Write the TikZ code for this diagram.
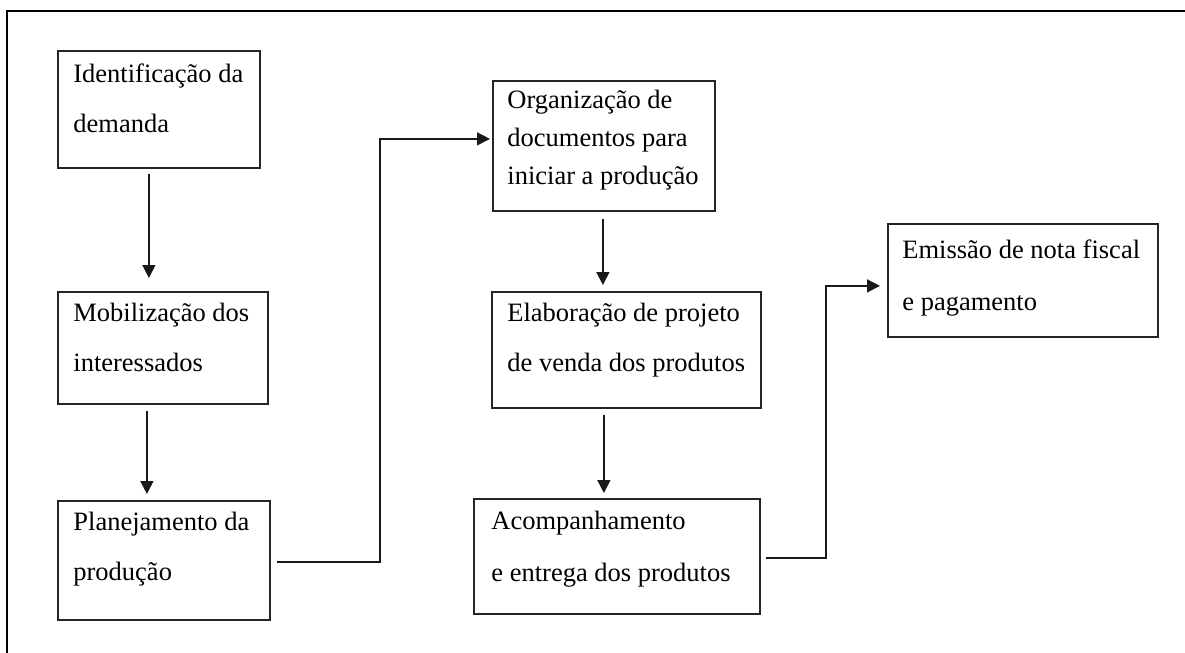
\documentclass[tikz,border=0pt]{standalone}
\usepackage{fontspec}
\setmainfont{Liberation Serif}
\usetikzlibrary{arrows.meta,positioning}

\tikzset{
    stepbox/.style={draw=black!85, line width=0.9pt, inner sep=0pt, anchor=north west},
    steptext/.style={anchor=north west, inner sep=0pt, align=left,
        font=\fontsize{13.25}{25}\selectfont},
    flow/.style={draw=black!90, line width=0.7pt, -{Triangle[length=6.5pt,width=6.5pt]}},
}

\begin{document}
\begin{tikzpicture}[x=0.5pt,y=-0.5pt]
    \useasboundingbox (0,0) rectangle (1185,653);
    % outer frame (cut by the page on the right and bottom)
    \draw[line width=1pt] (7,11) rectangle (1200,670);

    % left column
    \node[stepbox, minimum width=101pt, minimum height=58.5pt] (ident) at (57,50) {};
    \node[steptext] (identtxt) at ([xshift=8pt,yshift=-6.5pt]ident.north west) {Identificação da\\demanda};

    \node[stepbox, minimum width=105pt, minimum height=56pt] (mobil) at (57,291) {};
    \node[steptext] (mobiltxt) at ([xshift=8pt,yshift=-6pt]mobil.north west) {Mobilização dos\\interessados};

    \node[stepbox, minimum width=106pt, minimum height=59.5pt] (plan) at (57,500) {};
    \node[steptext] (plantxt) at ([xshift=8pt,yshift=-6pt]plan.north west) {Planejamento da\\produção};

    % middle column
    \node[stepbox, minimum width=111pt, minimum height=65pt] (org) at (492,80) {};
    \node[steptext, font=\fontsize{13.25}{19}\selectfont] (orgtxt) at ([xshift=7.5pt,yshift=-5pt]org.north west) {Organização de\\documentos para\\iniciar a produção};

    \node[stepbox, minimum width=134.5pt, minimum height=58pt] (elab) at (491,291) {};
    \node[steptext] (elabtxt) at ([xshift=8pt,yshift=-6pt]elab.north west) {Elaboração de projeto\\de venda dos produtos};

    \node[stepbox, minimum width=143pt, minimum height=57.5pt] (acomp) at (473,498) {};
    \node[steptext, font=\fontsize{13.25}{26}\selectfont] (acomptxt) at ([xshift=9pt,yshift=-6.5pt]acomp.north west) {Acompanhamento\\e entrega dos produtos};

    % right column
    \node[stepbox, minimum width=135pt, minimum height=56.5pt] (emis) at (887,223) {};
    \node[steptext, font=\fontsize{13.25}{26}\selectfont] (emistxt) at ([xshift=7.5pt,yshift=-8pt]emis.north west) {Emissão de nota fiscal\\e pagamento};

    % connectors
    \draw[flow, shorten <=2.5pt, shorten >=6.5pt] ([xshift=-5pt]ident.south) -- ([xshift=-5pt]ident.south |- mobil.north);
    \draw[flow, shorten <=3pt, shorten >=3pt] ([xshift=-8pt]mobil.south) -- ([xshift=-8pt]mobil.south |- plan.north);
    \draw[flow, shorten >=1pt] ([xshift=3pt,yshift=-0.75pt]plan.east) -- ++(103,0) |- ([yshift=3.5pt]org.west);
    \draw[flow, shorten <=3.5pt, shorten >=3pt] ([xshift=-0.5pt]org.south) -- ([xshift=-0.5pt]org.south |- elab.north);
    \draw[flow, shorten <=3pt, shorten >=2.5pt] ([xshift=-11.25pt]elab.south) -- ([xshift=-11.25pt]elab.south |- acomp.north);
    \draw[flow, shorten >=3.5pt] ([xshift=2.5pt,yshift=-0.75pt]acomp.east) -- ++(60,0) |- ([yshift=-2.75pt]emis.west);
\end{tikzpicture}
\end{document}
